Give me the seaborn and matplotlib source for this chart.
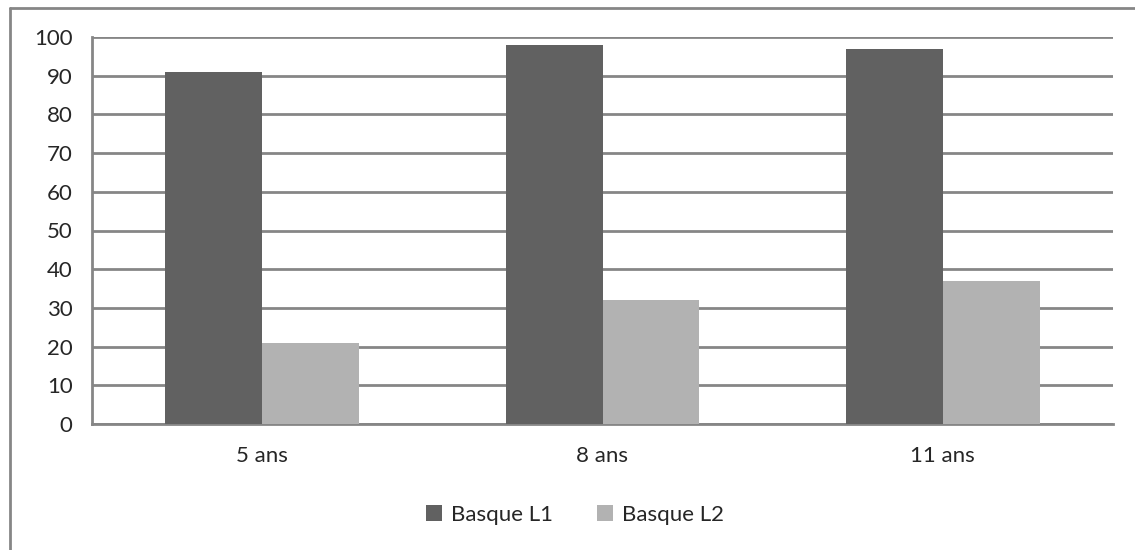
import matplotlib
matplotlib.use('Agg')
import matplotlib.pyplot as plt
import seaborn as sns
import pandas as pd
from matplotlib.lines import Line2D

# données
categories = ["5 ans", "8 ans", "11 ans"]
series_names = ["Basque L1", "Basque L2"]
basque_l1 = [91, 98, 97]
basque_l2 = [21, 32, 37]
y_ticks = [0, 10, 20, 30, 40, 50, 60, 70, 80, 90, 100]

df = pd.DataFrame({
    "age": categories * 2,
    "serie": [series_names[0]] * 3 + [series_names[1]] * 3,
    "valeur": basque_l1 + basque_l2,
})

sns.set_style("white")
plt.rcParams['font.family'] = ['Lato', 'DejaVu Sans']

GRID = '#868686'
FS = 16
fig = plt.figure(figsize=(11.35, 5.5), dpi=100)
ax = fig.add_axes([92 / 1135, 1 - 424 / 550, (1113 - 92) / 1135, (424 - 37) / 550])

sns.barplot(data=df, x="age", y="valeur", hue="serie", ax=ax,
            palette=['#616161', '#b2b2b2'], width=0.57, gap=0,
            saturation=1, edgecolor='none', zorder=3)

ax.set_ylim(0, 100)
ax.set_xlim(-0.5, 2.5)
ax.set_yticks(y_ticks)
ax.yaxis.grid(True, color=GRID, linewidth=2)
ax.set_axisbelow(True)
ax.set_xlabel('')
ax.set_ylabel('')

# ticks x entre les catégories
ax.set_xticks([-0.5, 0.5, 1.5, 2.5], minor=True)
ax.set_xticks([0, 1, 2])
ax.set_xticklabels(categories)
ax.tick_params(axis='x', which='major', length=0, pad=16, labelsize=FS)
ax.tick_params(axis='x', which='minor', length=7, width=2, color=GRID, direction='out')
ax.tick_params(axis='y', length=6, width=2, color=GRID, direction='out', pad=8, labelsize=FS)

for s in ['top', 'right']:
    ax.spines[s].set_visible(False)
for s in ['left', 'bottom']:
    ax.spines[s].set_color(GRID)
    ax.spines[s].set_linewidth(2)

handles, labels = ax.get_legend_handles_labels()
ax.legend(handles, labels, loc='center', bbox_to_anchor=(0.473, -0.235),
          ncol=2, frameon=False, fontsize=FS, handlelength=0.7, handleheight=0.7,
          handletextpad=0.4, columnspacing=2.0)

# cadre de la figure
fig.add_artist(Line2D([10 / 1135, 10 / 1135], [0, 1 - 8 / 550], color=GRID, linewidth=2))
fig.add_artist(Line2D([10 / 1135, 1], [1 - 8 / 550, 1 - 8 / 550], color=GRID, linewidth=2))

plt.savefig('out.png', dpi=100)
